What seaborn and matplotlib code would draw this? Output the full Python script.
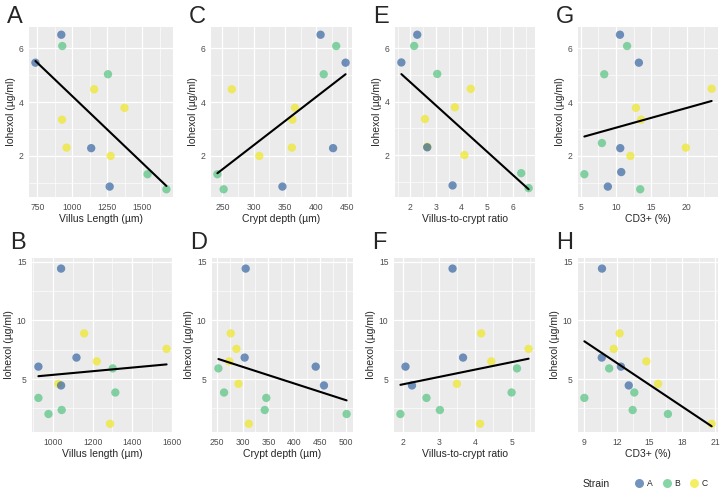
import numpy as np
import pandas as pd
import matplotlib
matplotlib.use("Agg")
import matplotlib.pyplot as plt
import seaborn as sns
from matplotlib.ticker import MultipleLocator, AutoMinorLocator
from matplotlib.lines import Line2D

# top row (A, C, E): same animals
top_strain = ["A", "B", "A", "B", "C", "C", "C", "C", "A", "C", "B", "A", "B"]
top_iohexol = [6.51, 6.09, 5.47, 5.04, 4.48, 3.79, 3.35, 2.31, 2.29, 2.00, 1.32, 0.86, 0.76]
top_villus = [921, 928, 736, 1255, 1156, 1373, 926, 959, 1135, 1274, 1538, 1267, 1673]
top_crypt = [407, 432, 447, 412, 265, 366, 362, 361, 427, 309, 242, 346, 252]
top_ratio = [2.27, 2.15, 1.65, 3.05, 4.36, 3.74, 2.57, 2.66, 2.66, 4.11, 6.33, 3.65, 6.62]

# panel G
g_strain = ["A", "B", "A", "B", "C", "C", "C", "B", "A", "C", "C", "A", "B", "A", "B"]
g_cd3 = [10.56, 11.57, 13.24, 8.33, 23.56, 12.82, 13.56, 8.0, 10.6, 19.9, 12.04, 10.74, 5.51, 8.84, 13.43]
g_iohexol = [6.51, 6.09, 5.47, 5.04, 4.50, 3.79, 3.35, 2.48, 2.29, 2.31, 2.00, 1.40, 1.32, 0.86, 0.76]

# bottom row (B, D, F)
bot_strain = ["A", "C", "C", "A", "C", "A", "B", "C", "A", "B", "B", "B", "B", "C"]
bot_iohexol = [14.4, 8.89, 7.57, 6.83, 6.51, 6.06, 5.91, 4.60, 4.46, 3.86, 3.40, 2.37, 2.03, 1.20]
bot_villus = [1040, 1157, 1575, 1118, 1221, 925, 1302, 1026, 1040, 1315, 925, 1043, 976, 1288]
bot_crypt = [306, 277, 288, 304, 274, 442, 253, 292, 458, 264, 346, 343, 502, 312]
bot_ratio = [3.37, 4.16, 5.47, 3.66, 4.44, 2.07, 5.15, 3.49, 2.25, 5.0, 2.65, 3.02, 1.93, 4.13]

# panel H
h_strain = ["A", "C", "C", "C", "A", "A", "B", "C", "A", "B", "B", "B", "B", "C"]
h_cd3 = [10.62, 12.24, 11.7, 14.7, 10.6, 12.36, 11.28, 15.78, 13.08, 13.59, 9.0, 13.44, 16.68, 20.7]
h_iohexol = [14.4, 8.89, 7.57, 6.51, 6.83, 6.06, 5.91, 4.60, 4.46, 3.86, 3.40, 2.37, 2.03, 1.20]

palette = {"A": "#30619F", "B": "#4FC27E", "C": "#EFE71C"}

sns.set_theme(style="darkgrid", rc={"axes.facecolor": "#EBEBEB", "grid.color": "white"})
plt.rcParams["font.family"] = ["Liberation Sans", "DejaVu Sans"]

fig = plt.figure(figsize=(7.22, 4.93), dpi=100)
W, H = 722, 493


def panel(px, letter, x, y, strain, xlabel, xstep, ystep, lift):
    l, t, r, b = px
    ax = fig.add_axes([l / W, 1 - b / H, (r - l) / W, (b - t) / H])
    df = pd.DataFrame({"x": x, "y": y, "Strain": strain})
    sns.scatterplot(data=df, x="x", y="y", hue="Strain", palette=palette, s=36,
                    alpha=0.68, edgecolor="none", legend=False, ax=ax, zorder=3)
    sns.regplot(data=df, x="x", y="y", scatter=False, ci=None, ax=ax,
                line_kws={"color": "black", "lw": 1.5, "zorder": 4})
    ax.xaxis.set_major_locator(MultipleLocator(xstep))
    ax.yaxis.set_major_locator(MultipleLocator(ystep))
    ax.xaxis.set_minor_locator(AutoMinorLocator(2))
    ax.yaxis.set_minor_locator(AutoMinorLocator(2))
    ax.grid(which="major", color="white", lw=0.9)
    ax.grid(which="minor", color="white", lw=0.45)
    ax.tick_params(which="major", length=2.5, width=0.6, color="#333333",
                   labelsize=6.2, labelcolor="#4D4D4D", pad=1.5)
    ax.tick_params(which="minor", length=0)
    for s in ax.spines.values():
        s.set_visible(False)
    ax.set_xlabel(xlabel, fontsize=7.5, labelpad=1.5)
    ax.set_ylabel("Iohexol (µg/ml)", fontsize=7.5, labelpad=2)
    fig.text((l - 22) / W, 1 - (t - lift) / H, letter, fontsize=17, va="baseline")
    return ax


top = (27, 197)
bot = (258, 432)

axA = panel((29, top[0], 173, top[1]), "A", top_villus, top_iohexol, top_strain, "Villus Length (µm)", 250, 2, 4)
axA.set_xlim(690, 1720)
axC = panel((211, top[0], 352, top[1]), "C", top_crypt, top_iohexol, top_strain, "Crypt depth (µm)", 50, 2, 4)
axE = panel((395, top[0], 535, top[1]), "E", top_ratio, top_iohexol, top_strain, "Villus-to-crypt ratio", 1, 2, 4)
axG = panel((578, top[0], 718, top[1]), "G", g_cd3, g_iohexol, g_strain, "CD3+ (%)", 5, 2, 4)

axB = panel((32, bot[0], 173, bot[1]), "B", bot_villus, bot_iohexol, bot_strain, "Villus length (µm)", 200, 5, 9)
axD = panel((212, bot[0], 353, bot[1]), "D", bot_crypt, bot_iohexol, bot_strain, "Crypt depth (µm)", 50, 5, 9)
axF = panel((394, bot[0], 535, bot[1]), "F", bot_ratio, bot_iohexol, bot_strain, "Villus-to-crypt ratio", 1, 5, 9)
axH = panel((578, bot[0], 718, bot[1]), "H", h_cd3, h_iohexol, h_strain, "CD3+ (%)", 3, 5, 9)
for ax in (axB, axD, axF, axH):
    ax.set_ylim(0.5, 15.3)

handles = [Line2D([0], [0], marker="o", ls="", markersize=6.5, markeredgecolor="none",
                  markerfacecolor=palette[k], alpha=0.68) for k in palette]
fig.text(583 / W, 1 - 484 / H, "Strain", fontsize=7.5, va="center")
fig.legend(handles, list(palette.keys()), loc="center", ncol=3, frameon=False,
           bbox_to_anchor=(671 / W, 1 - 484 / H), fontsize=6.2,
           handletextpad=0.3, columnspacing=1.0, handlelength=1.2)

fig.savefig("out.png", dpi=100)
